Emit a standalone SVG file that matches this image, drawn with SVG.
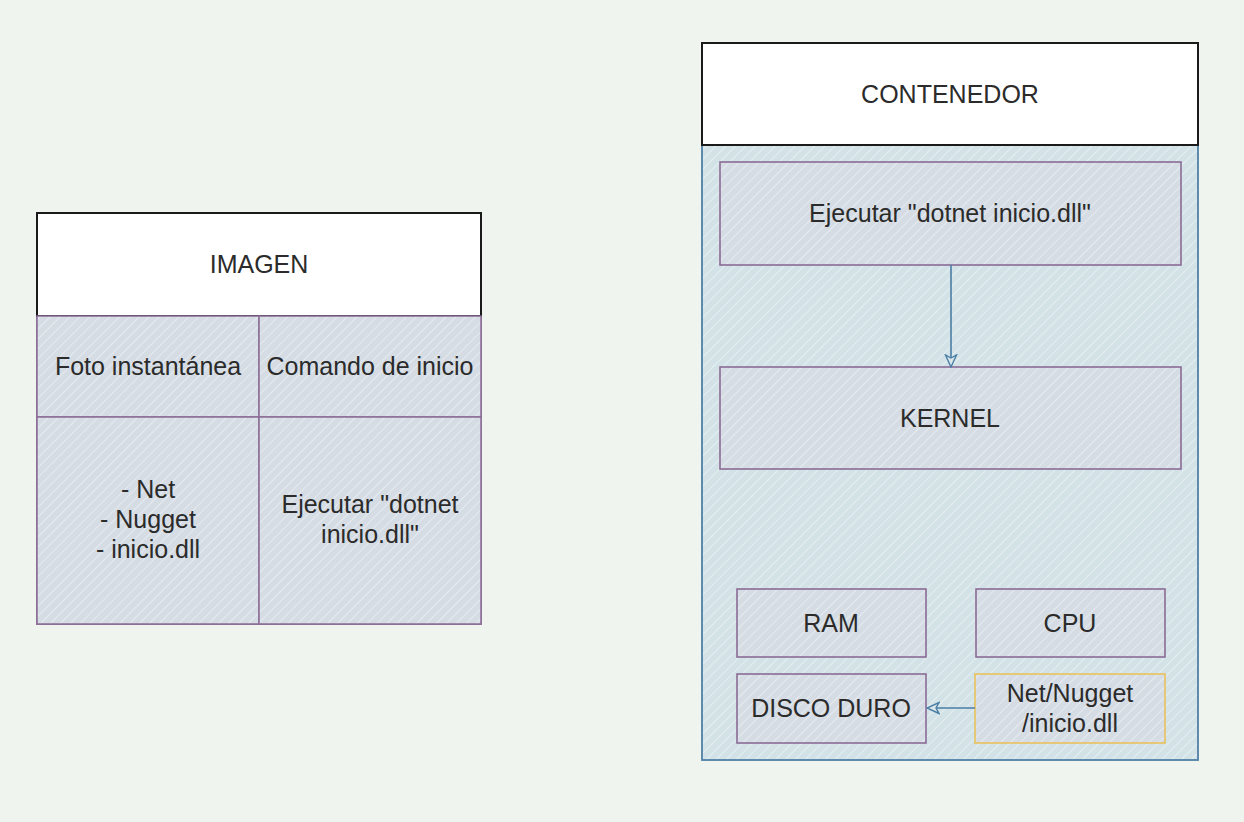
<svg xmlns="http://www.w3.org/2000/svg" width="1244" height="822" viewBox="0 0 1244 822">
<defs>
<style>
text{font-family:"Liberation Sans",Arial,sans-serif;font-size:25px;fill:#2b2b2b;text-anchor:middle}
.hdr{fill:#ffffff;stroke:#1a1a1a;stroke-width:2}
.cell{fill:url(#hatchBox);stroke:#8a6c96;stroke-width:1.5}
.body{fill:url(#hatchBody);stroke:#4f80a6;stroke-width:1.8}
.box{fill:url(#hatchBox);stroke:#8a6c96;stroke-width:1.6}
.ybox{fill:url(#hatchBox);stroke:#e9c25c;stroke-width:1.6}
.conn{fill:none;stroke:#4a7ea6;stroke-width:1.6}
</style>
<pattern id="hatchBox" width="7" height="7" patternUnits="userSpaceOnUse" patternTransform="rotate(45)">
<rect width="7" height="7" fill="#d5dce4"/>
<line x1="0" y1="0" x2="0" y2="7" stroke="#e6ebf0" stroke-width="2"/>
</pattern>
<pattern id="hatchBody" width="7" height="7" patternUnits="userSpaceOnUse" patternTransform="rotate(45)">
<rect width="7" height="7" fill="#d2e2e6"/>
<line x1="0" y1="0" x2="0" y2="7" stroke="#e5eff1" stroke-width="2"/>
</pattern>
<marker id="open" viewBox="0 0 14 14" refX="13" refY="7" markerWidth="14" markerHeight="14" markerUnits="userSpaceOnUse" orient="auto">
<path d="M1,1.5 L13,7 L1,12.5 L4,7 Z" fill="#dbe6ea" stroke="#4a7ea6" stroke-width="1.4"/>
</marker>
</defs>
<rect width="1244" height="822" fill="#eff5ee"/>

<g id="imagen">
<rect x="37" y="316" width="444" height="308" fill="url(#hatchBox)" stroke="#8a6c96" stroke-width="1.8"/>
<rect class="hdr" x="37" y="213" width="444" height="103"/>
<text x="259" y="273">IMAGEN</text>
</g>
<g id="foto">
<rect class="cell" x="37" y="316" width="222" height="101"/>
<text x="148" y="375">Foto instantánea</text>
</g>
<g id="comando">
<rect class="cell" x="259" y="316" width="222" height="101"/>
<text x="370" y="375">Comando de inicio</text>
</g>
<g id="contenido">
<rect class="cell" x="37" y="417" width="222" height="207"/>
<text x="148" y="498">- Net</text>
<text x="148" y="528">- Nugget</text>
<text x="148" y="558">- inicio.dll</text>
</g>
<g id="ejecutar-img">
<rect class="cell" x="259" y="417" width="222" height="207"/>
<text x="370" y="513">Ejecutar "dotnet</text>
<text x="370" y="543">inicio.dll"</text>
</g>

<g id="contenedor">
<rect class="body" x="702" y="145" width="496" height="615"/>
<rect class="hdr" x="702" y="43" width="496" height="102"/>
<text x="950" y="103">CONTENEDOR</text>
</g>
<g id="ejecutar">
<rect class="box" x="720" y="162" width="461" height="103"/>
<text x="950" y="222">Ejecutar "dotnet inicio.dll"</text>
</g>
<g id="kernel">
<rect class="box" x="720" y="367" width="461" height="102"/>
<text x="950" y="427">KERNEL</text>
</g>
<g id="ram">
<rect class="box" x="737" y="589" width="189" height="68"/>
<text x="831" y="632">RAM</text>
</g>
<g id="cpu">
<rect class="box" x="976" y="589" width="189" height="68"/>
<text x="1070" y="632">CPU</text>
</g>
<g id="disco">
<rect class="box" x="737" y="674" width="189" height="69"/>
<text x="831" y="717">DISCO DURO</text>
</g>
<g id="netnugget">
<rect class="ybox" x="975" y="674" width="190" height="69"/>
<text x="1070" y="702">Net/Nugget</text>
<text x="1070" y="732">/inicio.dll</text>
</g>

<g id="connectors">
<path class="conn" d="M951,265 L951,367" marker-end="url(#open)"/>
<path class="conn" d="M975,708 L927,708" marker-end="url(#open)"/>
</g>
</svg>
